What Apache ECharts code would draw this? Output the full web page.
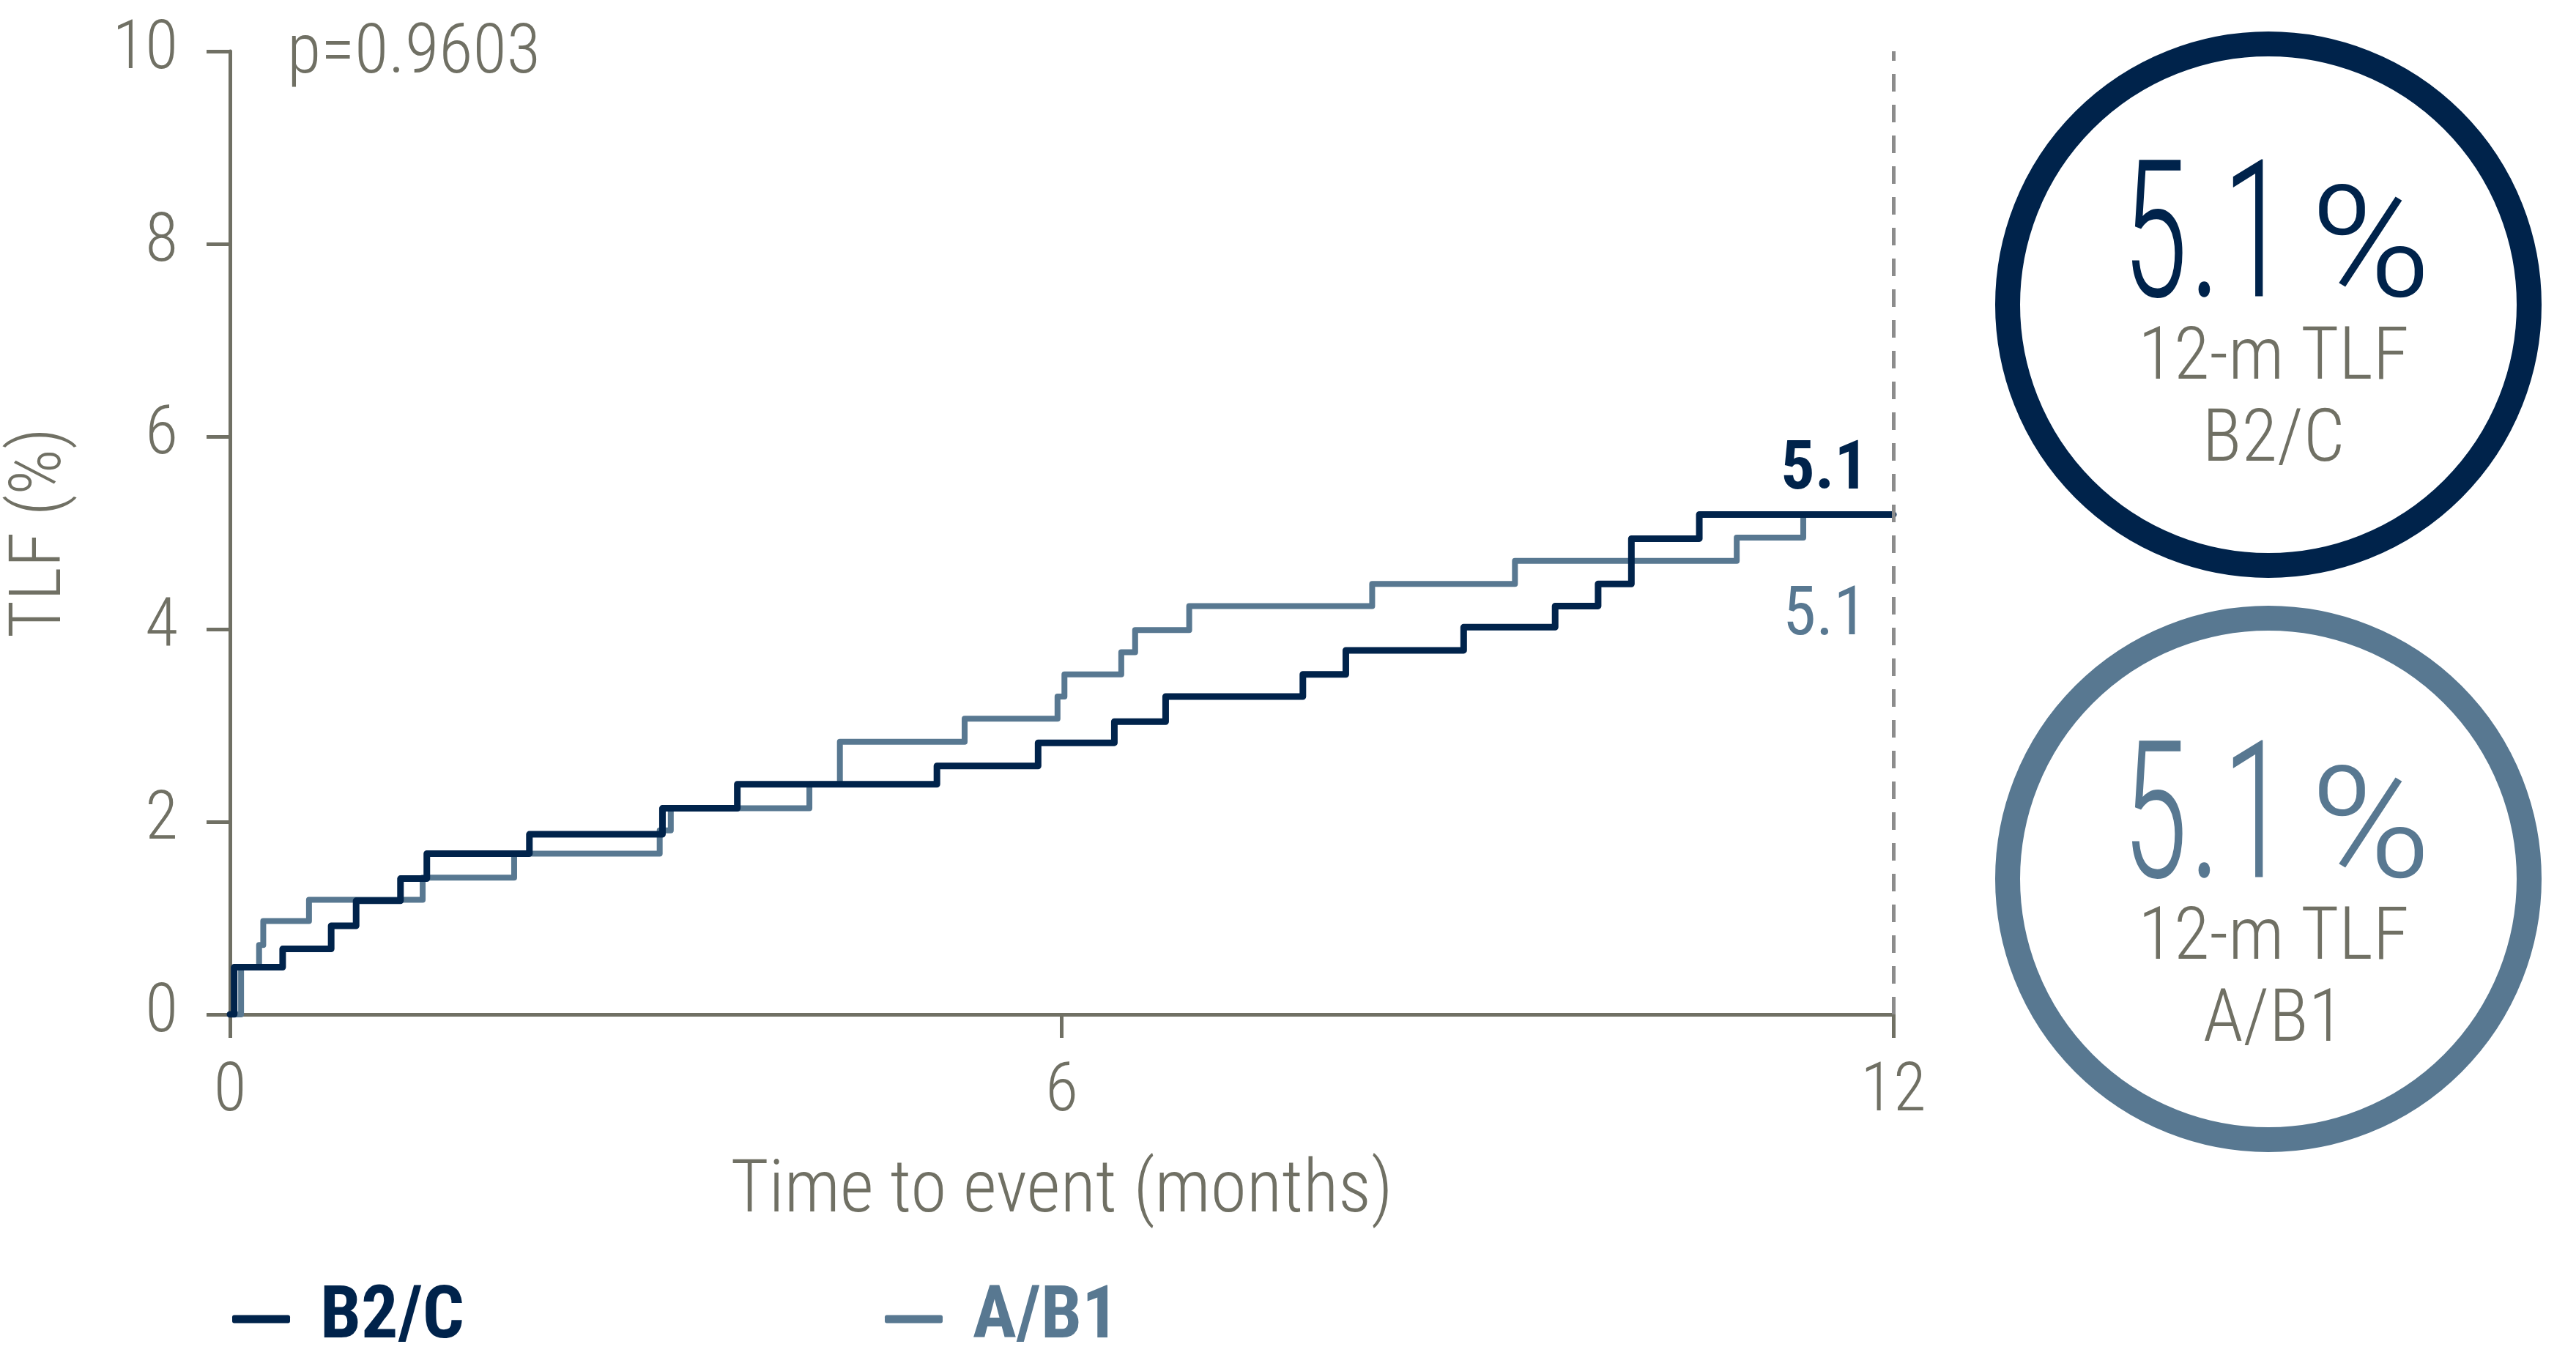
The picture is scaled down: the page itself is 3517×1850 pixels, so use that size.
<!DOCTYPE html>
<html>
<head>
<meta charset="utf-8">
<script src="https://cdn.jsdelivr.net/npm/echarts@6/dist/echarts.min.js"></script>
<style>
  html, body { margin: 0; padding: 0; background: #ffffff; }
  #chart { width: 3517px; height: 1850px; }
</style>
</head>
<body>
<div id="chart"></div>
<script>
// ---- data ----
const b2cMonths = [0, 0.03, 0.38, 0.73, 0.91, 1.23, 1.42, 2.16, 3.12, 3.66, 5.10, 5.83, 6.38, 6.75, 7.74, 8.05, 8.90, 9.56, 9.87, 10.11, 10.60, 12];
const b2cTLF    = [0, 0.49, 0.68, 0.92, 1.18, 1.41, 1.67, 1.87, 2.14, 2.39, 2.58, 2.82, 3.04, 3.30, 3.53, 3.78, 4.02, 4.24, 4.47, 4.94, 5.19, 5.19];
const ab1Months = [0, 0.08, 0.21, 0.24, 0.57, 1.39, 2.05, 3.10, 3.18, 4.18, 4.40, 5.30, 5.97, 6.02, 6.43, 6.53, 6.92, 8.24, 9.27, 10.87, 11.35];
const ab1TLF    = [0, 0.49, 0.72, 0.97, 1.19, 1.42, 1.67, 1.91, 2.14, 2.39, 2.83, 3.07, 3.30, 3.53, 3.76, 3.99, 4.24, 4.47, 4.71, 4.95, 5.19];
const seriesNames = ['B2/C', 'A/B1'];
const endValues = ['5.1', '5.1'];
const pValue = 'p=0.9603';
const xTicks = [0, 6, 12];
const yTicks = [0, 2, 4, 6, 8, 10];
const xTitle = 'Time to event (months)';
const yTitle = 'TLF (%)';
const circleSub = '12-m TLF';

// ---- styles ----
const DARK = '#00234b';
const LIGHT = '#587891';
const GRAY = '#707064';
const FONT = "'Roboto Condensed', 'Liberation Sans Narrow', 'DejaVu Sans Condensed', 'Arial Narrow', sans-serif";

const chart = echarts.init(document.getElementById('chart'), null, { renderer: 'canvas' });

function pairs(xs, ys) { return xs.map((x, i) => [x, ys[i]]); }

const option = {
  backgroundColor: '#ffffff',
  animation: false,
  textStyle: { fontFamily: FONT },
  grid: { left: 307, right: 932, top: 70, bottom: 465, containLabel: false },
  xAxis: {
    type: 'value', min: 0, max: 12, interval: 6,
    name: xTitle, nameLocation: 'middle', nameGap: 194,
    nameTextStyle: { color: GRAY, fontSize: 100, fontWeight: 300, fontFamily: FONT },
    axisLine: { show: true, lineStyle: { color: GRAY, width: 5 } },
    axisTick: { show: true, length: 32, lineStyle: { color: GRAY, width: 5 } },
    axisLabel: { color: GRAY, fontSize: 92, fontWeight: 300, fontFamily: FONT, margin: 62,
      formatter: v => xTicks.includes(v) ? String(v) : '' },
    splitLine: { show: false }
  },
  yAxis: {
    type: 'value', min: 0, max: 10, interval: 2,
    name: yTitle, nameLocation: 'middle', nameGap: 208, nameRotate: 90,
    nameTextStyle: { color: GRAY, fontSize: 98, fontWeight: 300, fontFamily: FONT },
    axisLine: { show: true, lineStyle: { color: GRAY, width: 5 } },
    axisTick: { show: true, length: 32, lineStyle: { color: GRAY, width: 5 } },
    axisLabel: { color: GRAY, fontSize: 92, fontWeight: 300, fontFamily: FONT, margin: 71,
      formatter: v => yTicks.includes(v) ? String(v) : '' },
    splitLine: { show: false }
  },
  legend: [
    { data: [{ name: seriesNames[0], textStyle: { color: DARK } }], left: 312, top: 1746,
      icon: 'roundRect', itemWidth: 79, itemHeight: 11, itemGap: 40,
      textStyle: { fontSize: 100, fontWeight: 'bold', fontFamily: FONT, color: DARK, padding: [0, 0, 0, 36] } },
    { data: [{ name: seriesNames[1], textStyle: { color: LIGHT } }], left: 1203, top: 1746,
      icon: 'roundRect', itemWidth: 79, itemHeight: 11, itemGap: 40,
      textStyle: { fontSize: 100, fontWeight: 'bold', fontFamily: FONT, color: LIGHT, padding: [0, 0, 0, 36] } }
  ],
  series: [
    {
      name: seriesNames[1], type: 'line', step: 'end', showSymbol: false, symbol: 'none',
      data: pairs(ab1Months, ab1TLF), z: 2,
      color: LIGHT,
      lineStyle: { color: LIGHT, width: 8, join: 'round', cap: 'round' }
    },
    {
      name: seriesNames[0], type: 'line', step: 'end', showSymbol: false, symbol: 'none',
      data: pairs(b2cMonths, b2cTLF), z: 3,
      color: DARK,
      lineStyle: { color: DARK, width: 9, join: 'round', cap: 'round' },
      markLine: {
        silent: true, symbol: ['none', 'none'], label: { show: false },
        lineStyle: { color: '#8c8c8c', width: 5, type: [24, 18] },
        data: [[{ coord: [12, 0] }, { coord: [12, 10] }]]
      }
    }
  ],
  graphic: [
    { type: 'text', left: 392, top: 28, style: { text: pValue, fill: GRAY, font: `300 95px ${FONT}` } },
    { type: 'text', x: 2551, y: 644, style: { text: endValues[0], fill: DARK, font: `bold 92px ${FONT}`, textAlign: 'right', textVerticalAlign: 'middle' } },
    { type: 'text', x: 2549, y: 843, style: { text: endValues[1], fill: LIGHT, font: `400 92px ${FONT}`, textAlign: 'right', textVerticalAlign: 'middle' } },
    // circles
    { type: 'circle', shape: { cx: 3097, cy: 416, r: 356 }, style: { fill: 'none', stroke: DARK, lineWidth: 34 } },
    { type: 'circle', shape: { cx: 3097, cy: 1200, r: 356 }, style: { fill: 'none', stroke: LIGHT, lineWidth: 34 } },
    { type: 'text', x: 3125, y: 470, scaleX: 0.72, style: { text: endValues[0], fill: DARK, font: `300 262px ${FONT}`, textAlign: 'right', textVerticalAlign: 'bottom' } },
    { type: 'text', x: 3152, y: 457, scaleX: 1.25, style: { text: '%', fill: DARK, font: `300 212px ${FONT}`, textAlign: 'left', textVerticalAlign: 'bottom' } },
    { type: 'text', x: 3104, y: 542, style: { text: circleSub, fill: GRAY, font: `300 100px ${FONT}`, textAlign: 'center', textVerticalAlign: 'bottom' } },
    { type: 'text', x: 3104, y: 654, style: { text: seriesNames[0], fill: GRAY, font: `300 100px ${FONT}`, textAlign: 'center', textVerticalAlign: 'bottom' } },
    { type: 'text', x: 3125, y: 1263, scaleX: 0.72, style: { text: endValues[1], fill: LIGHT, font: `300 262px ${FONT}`, textAlign: 'right', textVerticalAlign: 'bottom' } },
    { type: 'text', x: 3152, y: 1250, scaleX: 1.25, style: { text: '%', fill: LIGHT, font: `300 212px ${FONT}`, textAlign: 'left', textVerticalAlign: 'bottom' } },
    { type: 'text', x: 3104, y: 1334, style: { text: circleSub, fill: GRAY, font: `300 100px ${FONT}`, textAlign: 'center', textVerticalAlign: 'bottom' } },
    { type: 'text', x: 3104, y: 1446, style: { text: seriesNames[1], fill: GRAY, font: `300 100px ${FONT}`, textAlign: 'center', textVerticalAlign: 'bottom' } }
  ]
};
chart.setOption(option);
</script>
</body>
</html>
